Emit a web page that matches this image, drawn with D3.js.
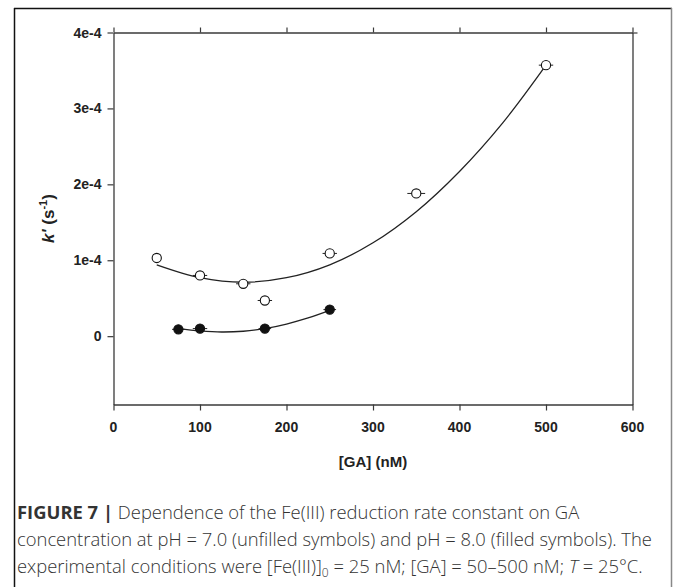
<!DOCTYPE html>
<html>
<head>
<meta charset="utf-8">
<script src="https://cdn.jsdelivr.net/npm/d3@7"></script>
<style>
  html, body { margin: 0; padding: 0; background: #fff; }
  svg { display: block; }
</style>
</head>
<body>
<svg id="chart" width="674" height="587"></svg>
<script>
// ---- data ----
const xTicks = [0, 100, 200, 300, 400, 500, 600];
const yTicks = [0, 1e-4, 2e-4, 3e-4, 4e-4];
const yTickLabels = ["0", "1e-4", "2e-4", "3e-4", "4e-4"];

// pH 7.0 (unfilled symbols)
const ph7X = [50, 100, 150, 175, 250, 350, 500];
const ph7K = [1.03e-4, 0.80e-4, 0.69e-4, 0.47e-4, 1.09e-4, 1.88e-4, 3.57e-4];
const ph7XErr = [0, 6, 6, 6, 6, 8, 6];

// pH 8.0 (filled symbols)
const ph8X = [75, 100, 175, 250];
const ph8K = [0.09e-4, 0.10e-4, 0.10e-4, 0.35e-4];
const ph8XErr = [5, 6, 5, 5];

// fitted curves
const fit7X = [50, 100, 150, 200, 250, 300, 350, 400, 450, 500];
const fit7K = [0.94e-4, 0.77e-4, 0.71e-4, 0.77e-4, 0.94e-4, 1.23e-4, 1.64e-4, 2.17e-4, 2.81e-4, 3.57e-4];
const fit8X = [75, 100, 125, 150, 175, 200, 225, 250];
const fit8K = [0.10e-4, 0.07e-4, 0.055e-4, 0.065e-4, 0.10e-4, 0.16e-4, 0.24e-4, 0.34e-4];

const xTitle = "[GA] (nM)";

// ---- layout ----
const svg = d3.select("#chart");
const L = 113.5, R = 632.5, T = 32.5, B = 404.5;
const x = d3.scaleLinear().domain([0, 600]).range([L, R]);
const y = d3.scaleLinear().domain([-0.9e-4, 4e-4]).range([B, T]);
const axisColor = "#3a3a3a";
const chartFont = "'Liberation Sans', Arial, Helvetica, sans-serif";

// outer figure border
svg.append("line").attr("x1", 14.5).attr("x2", 14.5).attr("y1", 8).attr("y2", 600)
  .attr("stroke", "#111").attr("stroke-width", 1.5);
svg.append("line").attr("x1", 14).attr("x2", 672).attr("y1", 8.5).attr("y2", 8.5)
  .attr("stroke", "#111").attr("stroke-width", 1.5);
svg.append("line").attr("x1", 671.5).attr("x2", 671.5).attr("y1", 8).attr("y2", 600)
  .attr("stroke", "#888").attr("stroke-width", 1.5);

// axes
const fmtY = d => yTickLabels[yTicks.indexOf(d)];
const gBottom = svg.append("g").attr("transform", `translate(0,${B})`)
  .call(d3.axisBottom(x).tickValues(xTicks).tickSize(6).tickSizeOuter(0).tickFormat(""));
const gTop = svg.append("g").attr("transform", `translate(0,${T})`)
  .call(d3.axisTop(x).tickValues(xTicks).tickSize(5).tickSizeOuter(0).tickFormat(""));
const gLeft = svg.append("g").attr("transform", `translate(${L},0)`)
  .call(d3.axisLeft(y).tickValues(yTicks).tickSize(6).tickSizeOuter(0).tickFormat(""));
const gRight = svg.append("g").attr("transform", `translate(${R},0)`)
  .call(d3.axisRight(y).tickValues([4e-4]).tickSize(5).tickSizeOuter(0).tickFormat(""));
[gBottom, gTop, gLeft, gRight].forEach(g => {
  g.select(".domain").attr("stroke", axisColor).attr("stroke-width", 1.3);
  g.selectAll(".tick line").attr("stroke", axisColor).attr("stroke-width", 1.2);
});

// tick labels
svg.append("g").selectAll("text").data(xTicks).join("text")
  .attr("x", d => x(d)).attr("y", B + 27)
  .attr("text-anchor", "middle")
  .attr("font-family", chartFont)
  .attr("font-weight", "bold").attr("font-size", 14).attr("fill", "#222")
  .text(d => d);
svg.append("g").selectAll("text").data(yTicks).join("text")
  .attr("x", L - 12).attr("y", d => y(d) + 5)
  .attr("text-anchor", "end")
  .attr("font-family", chartFont)
  .attr("font-weight", "bold").attr("font-size", 14).attr("fill", "#222")
  .text(fmtY);

// axis titles
svg.append("text").attr("x", (L + R) / 2).attr("y", 467)
  .attr("text-anchor", "middle")
  .attr("font-family", chartFont)
  .attr("font-weight", "bold").attr("font-size", 15).attr("fill", "#222")
  .text(xTitle);
const yt = svg.append("text")
  .attr("transform", `translate(54,${(T + B) / 2}) rotate(-90)`)
  .attr("text-anchor", "middle")
  .attr("font-family", chartFont)
  .attr("font-weight", "bold").attr("font-size", 17).attr("fill", "#222");
yt.append("tspan").attr("font-style", "italic").text("k'");
yt.append("tspan").text(" (s");
yt.append("tspan").attr("font-size", 11).attr("dy", -7).text("-1");
yt.append("tspan").attr("dy", 7).text(")");

// fit curves
const line = d3.line().x(d => x(d[0])).y(d => y(d[1])).curve(d3.curveCatmullRom);
svg.append("path").datum(fit7X.map((v, i) => [v, fit7K[i]]))
  .attr("d", line).attr("fill", "none").attr("stroke", "#222").attr("stroke-width", 1.3);
svg.append("path").datum(fit8X.map((v, i) => [v, fit8K[i]]))
  .attr("d", line).attr("fill", "none").attr("stroke", "#222").attr("stroke-width", 1.3);

// error bars + points
function drawSeries(xs, ks, errs, fill) {
  const data = xs.map((v, i) => ({ x: v, k: ks[i], e: errs[i] }));
  const g = svg.append("g");
  g.selectAll("line.err").data(data.filter(d => d.e > 0)).join("line")
    .attr("x1", d => x(d.x - d.e) - 2).attr("x2", d => x(d.x + d.e) + 2)
    .attr("y1", d => y(d.k)).attr("y2", d => y(d.k))
    .attr("stroke", "#222").attr("stroke-width", 1);
  g.selectAll("circle").data(data).join("circle")
    .attr("cx", d => x(d.x)).attr("cy", d => y(d.k)).attr("r", 4.6)
    .attr("fill", fill).attr("stroke", "#111").attr("stroke-width", 1.1);
}
drawSeries(ph7X, ph7K, ph7XErr, "#fff");
drawSeries(ph8X, ph8K, ph8XErr, "#111");

// caption
const capFont = "'Open Sans', 'Liberation Sans', sans-serif";
const cap = svg.append("g").attr("font-family", capFont).attr("font-size", 18.4).attr("fill", "#333");
const l1 = cap.append("text").attr("x", 17).attr("y", 519);
l1.append("tspan").attr("font-weight", "bold").text("FIGURE 7 |");
l1.append("tspan").attr("font-weight", 300).text(" Dependence of the Fe(III) reduction rate constant on GA");
cap.append("text").attr("x", 17).attr("y", 546).attr("font-weight", 300)
  .text("concentration at pH = 7.0 (unfilled symbols) and pH = 8.0 (filled symbols). The");
const l3 = cap.append("text").attr("x", 17).attr("y", 573).attr("font-weight", 300);
l3.append("tspan").text("experimental conditions were [Fe(III)]");
l3.append("tspan").attr("font-size", 12).attr("dy", 4).text("0");
l3.append("tspan").attr("dy", -4).text(" = 25 nM; [GA] = 50–500 nM; ");
l3.append("tspan").attr("font-style", "italic").text("T");
l3.append("tspan").text(" = 25°C.");
</script>
</body>
</html>
